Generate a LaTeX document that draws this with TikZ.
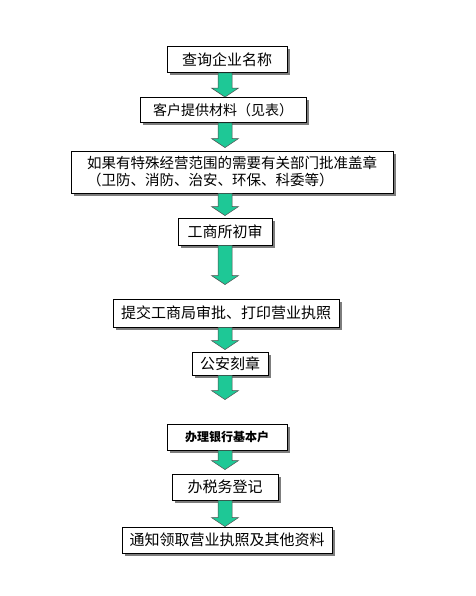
\documentclass[tikz,border=0pt]{standalone}
\usepackage{fontspec}
\newfontfamily\cjk{Noto Sans CJK SC}
\usetikzlibrary{shadows,calc}
\definecolor{arrowgreen}{RGB}{30,200,150}
\definecolor{shadowgray}{RGB}{125,125,125}

% fat green arrow from the bottom of one box towards the top of the next
\newcommand{\greenarrow}[3]{%
  \draw[fatarrow] let \p1=(#1.south), \p2=(#2.north) in
    (218pt,\y1) -- (232pt,\y1) -- (232pt,\y2+#3pt+9pt) -- (238.5pt,\y2+#3pt+9pt)
    -- (225pt,\y2+#3pt) -- (211.5pt,\y2+#3pt+9pt) -- (218pt,\y2+#3pt+9pt) -- cycle;
}

\begin{document}
\begin{tikzpicture}[
        x=1pt, y=-1pt,
        box/.style={draw=black, line width=0.9pt, fill=white, inner sep=2pt,
            font=\cjk\fontsize{15pt}{17pt}\selectfont,
            drop shadow={shadow xshift=3pt, shadow yshift=-3pt, fill=shadowgray, opacity=1}},
        fatarrow/.style={fill=arrowgreen, draw=black!70, line width=0.5pt, line join=miter}
    ]
    \useasboundingbox[fill=white] (0,0) rectangle (475,596);

    % Boxes, top to bottom
    \node[box, minimum width=120pt, minimum height=26pt] (query) at (227,59.5) {查询企业名称};
    \node[box, minimum width=166pt, minimum height=25pt, font=\cjk\fontsize{14pt}{17pt}\selectfont] (material) at (223,110) {客户提供材料（见表）};
    \node[box, minimum width=322pt, minimum height=42pt, align=left, font=\cjk\fontsize{14.5pt}{17pt}\selectfont] (approve) at (232,172)
        {如果有特殊经营范围的需要有关部门批准盖章\\（卫防、消防、治安、环保、科委等）};
    \node[box, minimum width=94pt, minimum height=27pt] (check) at (225,231.5) {工商所初审};
    \node[box, minimum width=226pt, minimum height=28pt] (license) at (226,313) {提交工商局审批、打印营业执照};
    \node[box, minimum width=76pt, minimum height=23pt] (seal) at (230,363.5) {公安刻章};
    \node[box, minimum width=120pt, minimum height=26pt, font=\cjk\bfseries\fontsize{12pt}{14pt}\selectfont] (bank) at (227,437) {办理银行基本户};
    \node[box, minimum width=106pt, minimum height=26pt] (tax) at (225,487) {办税务登记};
    \node[box, minimum width=210pt, minimum height=26pt] (notice) at (227,540) {通知领取营业执照及其他资料};

    % Arrows between the boxes
    \greenarrow{query}{material}{0}
    \greenarrow{material}{approve}{3}
    \greenarrow{approve}{check}{2}
    \greenarrow{check}{license}{14}
    \greenarrow{license}{seal}{2}
    \greenarrow{seal}{bank}{24}
    \greenarrow{bank}{tax}{4}
    \greenarrow{tax}{notice}{0}

\end{tikzpicture}
\end{document}
